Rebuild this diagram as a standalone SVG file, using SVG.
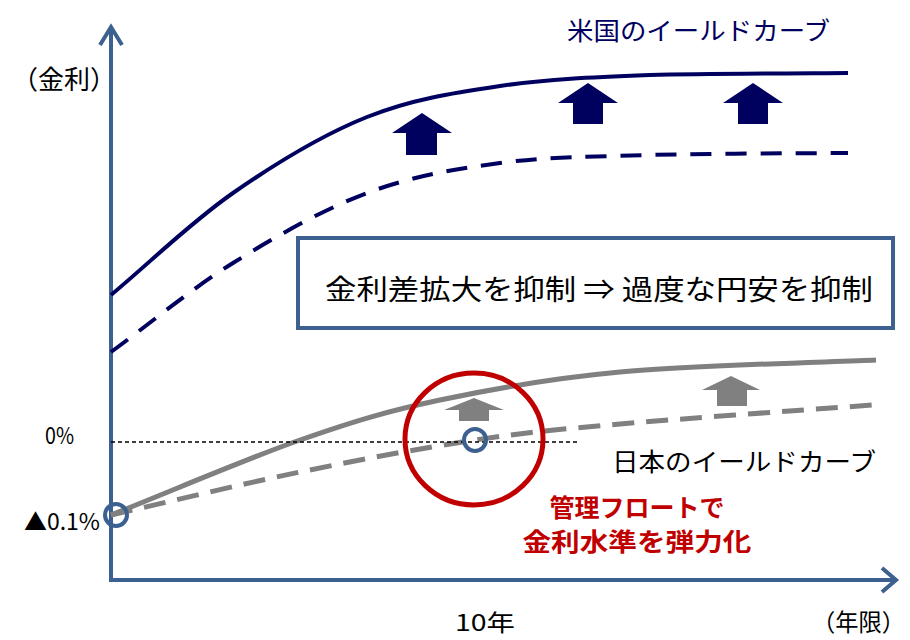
<svg xmlns="http://www.w3.org/2000/svg" width="910" height="640" viewBox="0 0 910 640">
<style>
.t{font-family:"Noto Sans CJK JP","Liberation Sans",sans-serif;}
.axis{stroke:#3C6090;stroke-width:4;fill:none;}
.us{stroke:#00005E;stroke-width:4;fill:none;}
.jp{stroke:#808080;stroke-width:5;fill:none;}
</style>
<rect width="910" height="640" fill="#ffffff"/>
<g id="axes">
<path class="axis" d="M111,580 V27 M100,45 L111,27 L122,45"/>
<path class="axis" d="M109,580 H895 M882,568 L896,580 L882,592"/>
</g>
<g id="connectors">
<path class="us" d="M111,295 C151.7,261 190.3,222.7 233,193 C275.7,163.3 322.5,134.8 367,117 C411.5,99.2 452.8,93 500,86 C547.2,79 592,77.2 650,75 C708,73.5 815,73.3 848,73"/>
<path class="us" stroke-dasharray="21,14" d="M111,352 C151.7,322.3 190.3,289.5 233,263 C275.7,236.5 322.5,209.7 367,193 C411.5,176.3 452.8,169.3 500,163 C547.2,156.7 592,156.7 650,155 C708,153.3 815,153.3 848,153"/>
<path class="jp" d="M111,515 C174,490 245.2,459.2 300,440 C354.8,420.8 386.7,411.3 440,400 C493.3,388.7 547.3,378.7 620,372 C692.7,365.3 833.3,362 876,360"/>
<path class="jp" stroke-dasharray="22,12" d="M111,515 C174,500.7 239.3,484.5 300,472 C360.7,459.5 421.7,448 475,440 C528.3,432 553.8,429.8 620,424 C686.2,418.2 830,408.2 872,405"/>
<line x1="111" y1="442" x2="578" y2="442" stroke="#000" stroke-width="1.5" stroke-dasharray="4,3"/>
</g>
<g id="us-arrows" fill="#00005E">
<polygon points="422,113 452,133 437,133 437,155 406,155 406,133 392,133"/>
<polygon points="588,83 618,103 603,103 603,124 573,124 573,103 558,103"/>
<polygon points="753,83 783,103 768,103 768,124 738,124 738,103 723,103"/>
</g>
<g id="jp-arrows" fill="#808080">
<polygon points="474,398 504,410 489,410 489,421 459,421 459,410 444,410"/>
<polygon points="731,376 760,390 747,390 747,406 717,406 717,390 702,390"/>
</g>
<g id="box">
<rect x="298" y="238" width="595" height="90" fill="#ffffff" stroke="#3C6090" stroke-width="4"/>
<text class="t" x="599" y="300" font-size="28" text-anchor="middle" textLength="548" lengthAdjust="spacingAndGlyphs">金利差拡大を抑制 ⇒ 過度な円安を抑制</text>
</g>
<g id="red-circle">
<ellipse cx="474" cy="439" rx="69" ry="66" fill="none" stroke="#C00000" stroke-width="5"/>
</g>
<g id="points">
<circle cx="475" cy="440" r="11" fill="none" stroke="#3C6090" stroke-width="4"/>
<circle cx="116" cy="515" r="11" fill="none" stroke="#3C6090" stroke-width="4"/>
</g>
<g id="labels" class="t">
<text class="t" x="12" y="89" font-size="26">（金利）</text>
<text class="t" x="567" y="40" font-size="25" fill="#00005E" textLength="263" lengthAdjust="spacingAndGlyphs">米国のイールドカーブ</text>
<text class="t" x="45" y="444" font-size="23" textLength="29" lengthAdjust="spacingAndGlyphs">0%</text>
<text class="t" x="24" y="530" font-size="23" textLength="76" lengthAdjust="spacingAndGlyphs">▲0.1%</text>
<text class="t" x="612" y="471" font-size="25" textLength="264" lengthAdjust="spacingAndGlyphs">日本のイールドカーブ</text>
<text class="t" x="637" y="517" font-size="25" font-weight="bold" fill="#C00000" text-anchor="middle">管理フロートで</text>
<text class="t" x="637" y="551" font-size="25" font-weight="bold" fill="#C00000" text-anchor="middle" textLength="229" lengthAdjust="spacingAndGlyphs">金利水準を弾力化</text>
<text class="t" x="455" y="631" font-size="23" textLength="60" lengthAdjust="spacingAndGlyphs">10年</text>
<text class="t" x="812" y="631" font-size="24" textLength="93" lengthAdjust="spacingAndGlyphs">（年限）</text>
</g>
</svg>
